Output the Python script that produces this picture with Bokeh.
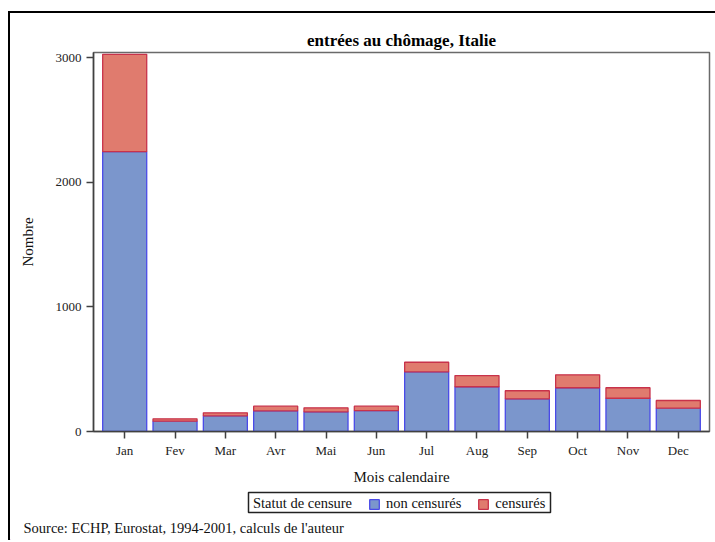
from bokeh.plotting import figure
from bokeh.layouts import column
from bokeh.models import (FactorRange, Range1d, Legend, LegendItem, Label,
                          FixedTicker, ColumnDataSource, BoxAnnotation)
from bokeh.embed import file_html
from bokeh.resources import INLINE

months = ["Jan", "Fev", "Mar", "Avr", "Mai", "Jun",
          "Jul", "Aug", "Sep", "Oct", "Nov", "Dec"]
non_censures = [2247, 83, 126, 166, 158, 168, 479, 359, 262, 351, 267, 187]
censures = [780, 19, 24, 37, 32, 35, 77, 90, 65, 104, 84, 62]
y_ticks = [0, 1000, 2000, 3000]
series_names = ["non censurés", "censurés"]
legend_title = "Statut de censure"
source_note = "Source: ECHP, Eurostat, 1994-2001, calculs de l'auteur"

FONT = "Liberation Serif"
BLUE_FILL, BLUE_LINE = "#7b96cc", "#4a4ae8"
RED_FILL, RED_LINE = "#e07b6e", "#c8324a"

src = ColumnDataSource(dict(month=months, non=non_censures, cen=censures))

# ---------------- main chart ----------------
p = figure(width=705, height=476, x_range=FactorRange(*months, range_padding=0.02),
           y_range=Range1d(0, 3042), output_backend="svg", toolbar_location=None,
           min_border_left=83, min_border_right=6, min_border_top=39,
           min_border_bottom=58)

renderers = p.vbar_stack(["non", "cen"], x="month", width=0.875, source=src,
                         fill_color=[BLUE_FILL, RED_FILL],
                         line_color=[BLUE_LINE, RED_LINE], line_width=1.3)

p.title.text = "entrées au chômage, Italie"
p.title.align = "center"
p.title.text_font = FONT
p.title.text_font_size = "17px"
p.title.text_font_style = "bold"
p.title.text_color = "#000000"
p.title.standoff = 5

p.xgrid.grid_line_color = None
p.ygrid.grid_line_color = None
p.outline_line_color = "#6a6a6a"
p.outline_line_width = 1.5
p.background_fill_color = "white"
p.border_fill_color = "white"

p.yaxis.ticker = FixedTicker(ticks=y_ticks)
for ax in (p.xaxis[0], p.yaxis[0]):
    ax.major_tick_out = 7
    ax.major_tick_in = 0
    ax.minor_tick_out = 0
    ax.minor_tick_in = 0
    ax.major_label_text_font = FONT
    ax.major_label_text_font_size = "13px"
    ax.major_label_text_color = "#222222"
    ax.axis_label_text_font = FONT
    ax.axis_label_text_font_size = "15px"
    ax.axis_label_text_font_style = "normal"
    ax.axis_label_text_color = "#111111"
    ax.axis_line_color = "#404040"
    ax.axis_line_width = 1.5
    ax.major_tick_line_color = "#404040"
    ax.major_tick_line_width = 1.5
p.xaxis.major_label_standoff = 4
p.yaxis.major_label_standoff = 5
p.xaxis.axis_label = "Mois calendaire"
p.yaxis.axis_label = "Nombre"
p.xaxis.axis_label_standoff = 8
p.yaxis.axis_label_standoff = 17

# ---------------- legend strip + source note ----------------
LW, LH = 705, 51
q = figure(width=LW, height=LH, x_range=Range1d(0, LW), y_range=Range1d(0, LH),
           x_axis_type=None, y_axis_type=None, output_backend="svg",
           toolbar_location=None, min_border=0, outline_line_color=None)
if "frame_align" in q.properties():
    q.frame_align = False
q.xgrid.grid_line_color = None
q.ygrid.grid_line_color = None
q.background_fill_color = "white"
q.border_fill_color = "white"

# legend glyph proxies, kept outside the visible range of this strip
proxy_src = ColumnDataSource(dict(x=[-50], top=[-50]))
proxy_title = q.scatter(x="x", y="top", source=proxy_src, fill_alpha=0, line_alpha=0)
proxy_non = q.vbar(x="x", top="top", width=1, source=proxy_src,
                   fill_color=BLUE_FILL, line_color=BLUE_LINE, line_width=1.3)
proxy_cen = q.vbar(x="x", top="top", width=1, source=proxy_src,
                   fill_color=RED_FILL, line_color=RED_LINE, line_width=1.3)

legend_box = BoxAnnotation(left=238, right=540, bottom=28, top=48,
                           fill_alpha=0, line_color="#222222", line_width=1.5,
                           line_alpha=1.0)
q.add_layout(legend_box)

legend = Legend(items=[LegendItem(label=legend_title, renderers=[proxy_title]),
                       LegendItem(label=series_names[0], renderers=[proxy_non]),
                       LegendItem(label=series_names[1], renderers=[proxy_cen])],
                orientation="horizontal", location=(225, 28),
                label_text_font=FONT, label_text_font_size="14.5px",
                label_text_color="#111111",
                glyph_width=12, glyph_height=12, label_standoff=6, spacing=16,
                padding=2, margin=0, border_line_color=None,
                background_fill_alpha=0)
q.add_layout(legend, "center")

note = Label(x=13, y=13, x_units="screen", y_units="screen", text=source_note,
             text_font=FONT, text_font_size="14.5px", text_color="#111111",
             text_baseline="middle")
q.add_layout(note)

layout = column(p, q, styles={"border-top": "2px solid black",
                              "border-left": "2px solid black",
                              "margin-left": "8px", "margin-top": "11px"})

open("out.html", "w").write(file_html(layout, INLINE))
